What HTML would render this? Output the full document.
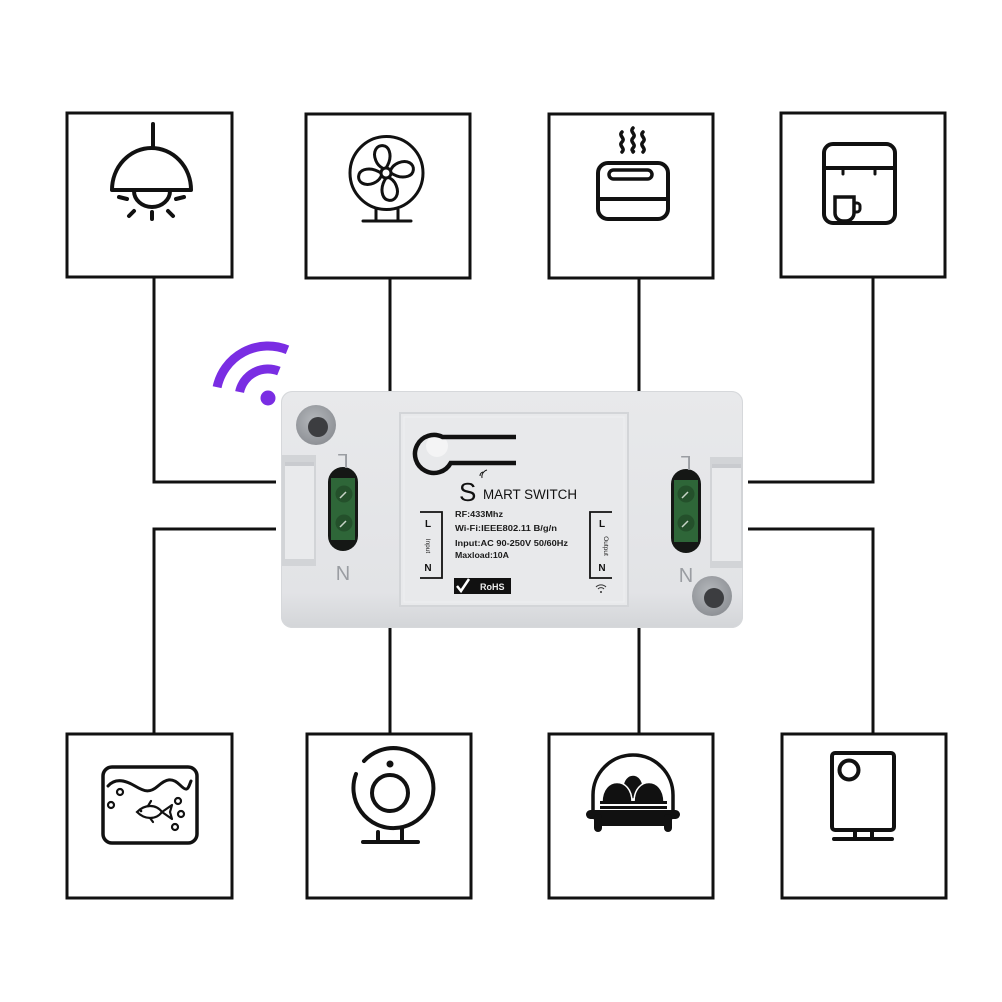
<!DOCTYPE html>
<html><head><meta charset="utf-8"><style>
html,body{margin:0;padding:0;background:#fff;}
svg{display:block;}
</style></head><body>
<svg width="1002" height="1002" viewBox="0 0 1002 1002" xmlns="http://www.w3.org/2000/svg" font-family="Liberation Sans, sans-serif">
<defs>
<linearGradient id="body" x1="0" y1="0" x2="0" y2="1">
<stop offset="0" stop-color="#e8e9eb"/><stop offset="0.85" stop-color="#e2e3e6"/><stop offset="1" stop-color="#d3d5d8"/>
</linearGradient>
<radialGradient id="hole" cx="0.45" cy="0.4" r="0.6">
<stop offset="0" stop-color="#b5b8bc"/><stop offset="1" stop-color="#8e9196"/>
</radialGradient>
</defs>
<rect width="1002" height="1002" fill="#fff"/>

<!-- connectors -->
<g stroke="#111" stroke-width="3" fill="none">
<polyline points="154,278 154,482 276,482"/>
<polyline points="276,529 154,529 154,733"/>
<line x1="390" y1="278" x2="390" y2="392"/>
<line x1="639" y1="278" x2="639" y2="392"/>
<polyline points="873,278 873,482 748,482"/>
<polyline points="748,529 873,529 873,733"/>
<line x1="390" y1="620" x2="390" y2="733"/>
<line x1="639" y1="620" x2="639" y2="733"/>
</g>

<!-- boxes -->
<g stroke="#111" stroke-width="3" fill="none">
<rect x="67" y="113" width="165" height="164"/>
<rect x="306" y="114" width="164" height="164"/>
<rect x="549" y="114" width="164" height="164"/>
<rect x="781" y="113" width="164" height="164"/>
<rect x="67" y="734" width="165" height="164"/>
<rect x="307" y="734" width="164" height="164"/>
<rect x="549" y="734" width="164" height="164"/>
<rect x="782" y="734" width="164" height="164"/>
</g>

<!-- lamp -->
<g stroke="#111" stroke-width="4" fill="none" stroke-linecap="round">
<line x1="153" y1="124" x2="153" y2="148"/>
<path d="M112,190 A39.5,42 0 0 1 191,190 Z" stroke-linejoin="round"/>
<path d="M134,191 A18,16 0 0 0 170,191"/>
<line x1="119" y1="197" x2="127" y2="199"/>
<line x1="176" y1="199" x2="184" y2="197"/>
<line x1="129" y1="216" x2="134" y2="211"/>
<line x1="152" y1="212" x2="152" y2="219"/>
<line x1="168" y1="211" x2="173" y2="216"/>
</g>

<!-- fan -->
<g stroke="#111" stroke-width="3" fill="#fff">
<circle cx="386.5" cy="173" r="36.5" fill="none"/>
<g transform="translate(386,173) rotate(-10)">
<path id="pet" d="M0,-4 C-9,-8 -10,-20 -6,-25 C-2,-30 6,-28 7,-21 C8,-14 4,-8 0,-4 Z"/>
<path d="M0,-4 C-9,-8 -10,-20 -6,-25 C-2,-30 6,-28 7,-21 C8,-14 4,-8 0,-4 Z" transform="rotate(90)"/>
<path d="M0,-4 C-9,-8 -10,-20 -6,-25 C-2,-30 6,-28 7,-21 C8,-14 4,-8 0,-4 Z" transform="rotate(180)"/>
<path d="M0,-4 C-9,-8 -10,-20 -6,-25 C-2,-30 6,-28 7,-21 C8,-14 4,-8 0,-4 Z" transform="rotate(270)"/>
</g>
<circle cx="386" cy="173" r="5"/>
<line x1="376" y1="209" x2="376" y2="220"/>
<line x1="398" y1="209" x2="398" y2="220"/>
<line x1="363" y1="221" x2="411" y2="221" stroke-linecap="round"/>
</g>

<!-- toaster -->
<g stroke="#111" stroke-width="4" fill="none" stroke-linecap="round">
<rect x="598" y="163" width="70" height="56" rx="10"/>
<rect x="609" y="170" width="43" height="9" rx="4.5" stroke-width="3.5"/>
<line x1="598" y1="199" x2="668" y2="199"/>
<path d="M622,132 c-4,4 4,6 0,10 c-4,4 4,6 0,10" stroke-width="3.5"/>
<path d="M633,128 c-4,4 4,6 0,10 c-4,4 4,6 0,10 c-3,3 2,3 0,4" stroke-width="3.5"/>
<path d="M643,132 c-4,4 4,6 0,10 c-4,4 4,6 0,10" stroke-width="3.5"/>
</g>

<!-- coffee machine -->
<g stroke="#111" stroke-width="4" fill="none" stroke-linecap="round">
<rect x="824" y="144" width="71" height="79" rx="9"/>
<line x1="824" y1="168" x2="895" y2="168"/>
<line x1="843" y1="168" x2="843" y2="174" stroke-width="3"/>
<line x1="875" y1="168" x2="875" y2="174" stroke-width="3"/>
<path d="M835,197 H854 V213 A8,8 0 0 1 846,221 H843 A8,8 0 0 1 835,213 Z" stroke-width="3.5"/>
<path d="M854,203 h3 a3,3 0 0 1 3,3 v3 a3,3 0 0 1 -3,3 h-3" stroke-width="3"/>
</g>

<!-- aquarium -->
<g stroke="#111" fill="none" stroke-linecap="round">
<rect x="103" y="767" width="94" height="76" rx="9" stroke-width="3.5"/>
<path d="M108,786 C115,778 125,780 135,786 S150,793 158,786 S172,777 180,785 S188,788 191,781" stroke-width="3"/>
<g stroke-width="2.2">
<circle cx="120" cy="792" r="3"/>
<circle cx="111" cy="805" r="3"/>
<circle cx="178" cy="801" r="3"/>
<circle cx="181" cy="814" r="3"/>
<circle cx="175" cy="827" r="3"/>
<path d="M162,812 C156,804 145,804 137,812 C145,820 156,820 162,812 Z"/>
<path d="M162,812 L172,805 L170,812 L172,819 Z" stroke-linejoin="round"/>
<path d="M148,806 l3,-5 M150,818 l3,4"/>
</g>
<circle cx="141" cy="811" r="1.3" fill="#111" stroke="none"/>
</g>

<!-- webcam -->
<g stroke="#111" stroke-width="4" fill="none" stroke-linecap="round">
<path d="M356,774 A40,40 0 1 0 364,761"/>
<circle cx="390" cy="793" r="18"/>
<line x1="378" y1="832" x2="378" y2="840"/>
<line x1="402" y1="828" x2="402" y2="840"/>
<line x1="363" y1="842" x2="418" y2="842"/>
</g>
<circle cx="390" cy="764" r="3.5" fill="#111"/>

<!-- egg cooker -->
<g>
<path d="M593,810 V795 A40,40 0 0 1 673,795 V810" stroke="#111" stroke-width="3.5" fill="none"/>
<ellipse cx="633" cy="787" rx="10" ry="12" fill="#111" stroke="#fff" stroke-width="1.5"/>
<path d="M602,802 C602,776 632,776 632,802 Z" fill="#111" stroke="#fff" stroke-width="1.5"/>
<path d="M634,802 C634,776 664,776 664,802 Z" fill="#111" stroke="#fff" stroke-width="1.5"/>
<rect x="600" y="801" width="67" height="3" fill="#111"/>
<rect x="600" y="806" width="67" height="3" fill="#111"/>
<rect x="586" y="810" width="94" height="9" rx="4.5" fill="#111"/>
<path d="M592,812 H674 V818 Q668,822 668,826 H598 Q598,822 592,818 Z" fill="#111"/>
<rect x="594" y="814" width="8" height="18" rx="4" fill="#111"/>
<rect x="664" y="814" width="8" height="18" rx="4" fill="#111"/>
</g>

<!-- speaker -->
<g stroke="#111" stroke-width="4" fill="none" stroke-linecap="round">
<rect x="832" y="753" width="62" height="77" rx="3"/>
<circle cx="849" cy="770" r="9.5"/>
<line x1="855" y1="830" x2="855" y2="838"/>
<line x1="872" y1="830" x2="872" y2="838"/>
<line x1="834" y1="839" x2="892" y2="839"/>
</g>

<!-- purple wifi -->
<g stroke="#7a2de3" stroke-width="9" fill="none">
<path d="M217.1,387.2 A52,52 0 0 1 287.5,349.8"/>
<path d="M239.6,392 A29,29 0 0 1 278.9,371.1"/>
</g>
<circle cx="268" cy="398" r="7.5" fill="#7a2de3"/>

<!-- device -->
<rect x="281" y="391" width="462" height="237" rx="11" fill="url(#body)"/>
<rect x="281.5" y="391.5" width="461" height="236" rx="11" fill="none" stroke="#d6d8db" stroke-width="1"/>
<!-- side tabs -->
<rect x="282" y="455" width="34" height="111" fill="#d2d4d7"/>
<rect x="285" y="462" width="29" height="97" fill="#e9eaec"/>
<rect x="285" y="462" width="29" height="4" fill="#c9cbcf"/>
<rect x="710" y="457" width="33" height="111" fill="#d2d4d7"/>
<rect x="712" y="464" width="29" height="97" fill="#e9eaec"/>
<rect x="712" y="464" width="29" height="4" fill="#c9cbcf"/>
<!-- screw holes -->
<circle cx="316" cy="425" r="20" fill="url(#hole)"/>
<circle cx="318" cy="427" r="10" fill="#3c3d40"/>
<circle cx="712" cy="596" r="20" fill="url(#hole)"/>
<circle cx="714" cy="598" r="10" fill="#3c3d40"/>
<!-- terminals -->
<rect x="328" y="467" width="30" height="84" rx="15" fill="#151715"/>
<rect x="331" y="478" width="24" height="62" fill="#2e6638"/>
<circle cx="344" cy="494" r="8.5" fill="#24502b"/>
<circle cx="344" cy="523" r="8.5" fill="#24502b"/>
<path d="M340,498 l6,-6 M340,527 l6,-6" stroke="#c8d4c8" stroke-width="1.5"/>
<rect x="671" y="469" width="30" height="84" rx="15" fill="#151715"/>
<rect x="674" y="480" width="24" height="62" fill="#2e6638"/>
<circle cx="686" cy="494" r="8.5" fill="#24502b"/>
<circle cx="686" cy="523" r="8.5" fill="#24502b"/>
<path d="M682,498 l6,-6 M682,527 l6,-6" stroke="#c8d4c8" stroke-width="1.5"/>
<!-- L N housing labels -->
<g fill="#9a9da2" font-size="20">
<text x="343" y="440" text-anchor="middle" transform="rotate(180 343 447)">L</text>
<text x="343" y="580" text-anchor="middle">N</text>
<text x="686" y="442" text-anchor="middle" transform="rotate(180 686 449)">L</text>
<text x="686" y="582" text-anchor="middle">N</text>
</g>
<!-- inner panel -->
<rect x="400" y="413" width="228" height="193" fill="#e8e9eb" stroke="#d3d5d8" stroke-width="2"/>
<rect x="404" y="417" width="220" height="185" fill="none" stroke="#eef0f1" stroke-width="1"/>
<!-- key logo -->
<circle cx="437" cy="446" r="11" fill="#f4f4f5"/>
<path d="M516,437 H442.5 A19,19 0 1 0 450.7,463 H516" stroke="#111" stroke-width="4.5" fill="none"/>
<!-- smart switch -->
<text x="459" y="501" font-size="26" fill="#111">S</text>
<g stroke="#111" stroke-width="1" fill="none">
<path d="M480,476 a4,4 0 0 1 3,-4"/>
<path d="M482,478 a7,7 0 0 1 5,-8"/>
</g>
<text x="483" y="499" font-size="13.5" fill="#111" textLength="94" lengthAdjust="spacingAndGlyphs">MART SWITCH</text>
<g font-size="8" font-weight="bold" fill="#1a1a1a">
<text x="455" y="517" textLength="48" lengthAdjust="spacingAndGlyphs">RF:433Mhz</text>
<text x="455" y="531" textLength="102" lengthAdjust="spacingAndGlyphs">Wi-Fi:IEEE802.11 B/g/n</text>
<text x="455" y="546" textLength="113" lengthAdjust="spacingAndGlyphs">Input:AC 90-250V 50/60Hz</text>
<text x="455" y="558" textLength="54" lengthAdjust="spacingAndGlyphs">Maxload:10A</text>
</g>
<!-- input bracket -->
<path d="M420,512 H442 V578 H420" stroke="#111" stroke-width="1.8" fill="none"/>
<text x="428" y="527" font-size="10" font-weight="bold" fill="#111" text-anchor="middle">L</text>
<text x="428" y="571" font-size="10" font-weight="bold" fill="#111" text-anchor="middle">N</text>
<text x="0" y="0" font-size="6.5" fill="#222" text-anchor="middle" transform="translate(426,546) rotate(90)">Input</text>
<!-- output bracket -->
<path d="M612,512 H590 V578 H612" stroke="#111" stroke-width="1.8" fill="none"/>
<text x="602" y="527" font-size="10" font-weight="bold" fill="#111" text-anchor="middle">L</text>
<text x="602" y="571" font-size="10" font-weight="bold" fill="#111" text-anchor="middle">N</text>
<text x="0" y="0" font-size="6.5" fill="#222" text-anchor="middle" transform="translate(604,546) rotate(90)">Output</text>
<!-- small wifi -->
<g stroke="#333" stroke-width="1" fill="none">
<path d="M596,587 a7,7 0 0 1 10,0"/>
<path d="M598,589 a4,4 0 0 1 6,0"/>
</g>
<circle cx="601" cy="592" r="1" fill="#333"/>
<!-- RoHS -->
<rect x="454" y="578" width="57" height="16" fill="#111"/>
<path d="M457,586 l4,5 l8,-12" stroke="#fff" stroke-width="2.5" fill="none"/>
<text x="480" y="590" font-size="9" font-weight="bold" fill="#eee">RoHS</text>
</svg>
</body></html>
